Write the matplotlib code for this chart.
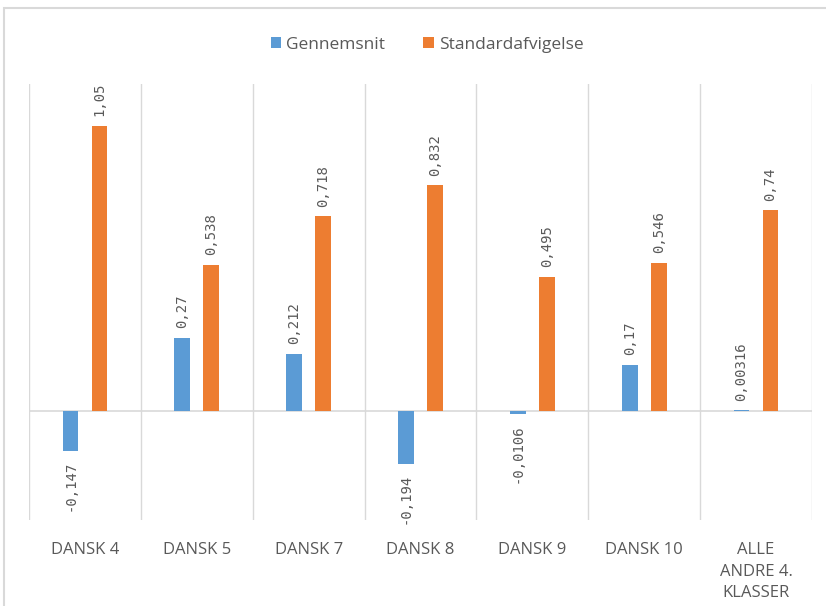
import numpy as np
import matplotlib.pyplot as plt
from matplotlib.patches import Rectangle

categories = ["DANSK 4", "DANSK 5", "DANSK 7", "DANSK 8", "DANSK 9", "DANSK 10", "ALLE\nANDRE 4.\nKLASSER"]
gennemsnit = [-0.147, 0.27, 0.212, -0.194, -0.0106, 0.17, 0.00316]
std_afv = [1.05, 0.538, 0.718, 0.832, 0.495, 0.546, 0.74]
gen_labels = ["-0,147", "0,27", "0,212", "-0,194", "-0,0106", "0,17", "0,00316"]
std_labels = ["1,05", "0,538", "0,718", "0,832", "0,495", "0,546", "0,74"]

BLUE = "#5B9BD5"
ORANGE = "#ED7D31"
GREY = "#595959"
LINE = "#D9D9D9"


def label_bars(ax, bars, texts):
    for b, t in zip(bars, texts):
        h = b.get_height()
        x = b.get_x() + b.get_width() / 2
        if h >= 0:
            ax.annotate(t, (x, h), xytext=(0, 7), textcoords="offset points",
                        rotation=90, ha="center", va="bottom", fontsize=10,
                        color=GREY, family="DejaVu Sans Mono")
        else:
            ax.annotate(t, (x, h), xytext=(0, -7), textcoords="offset points",
                        rotation=90, ha="center", va="top", fontsize=10,
                        color=GREY, family="DejaVu Sans Mono")


def main():
    fig = plt.figure(figsize=(8.26, 6.06), dpi=100)
    # outer chart frame (only top and left edges visible)
    fig.patches.append(Rectangle((4 / 826, -0.1), 1.2, 1.1 - 8 / 606,
                                 transform=fig.transFigure, fill=False,
                                 edgecolor=LINE, linewidth=1.5))

    ax = fig.add_axes([29 / 826, 86 / 606, 783 / 826, 436 / 606])
    x = np.arange(len(categories))
    w = 0.14
    b1 = ax.bar(x - 0.13, gennemsnit, w, color=BLUE, label="Gennemsnit")
    b2 = ax.bar(x + 0.13, std_afv, w, color=ORANGE, label="Standardafvigelse")
    label_bars(ax, b1, gen_labels)
    label_bars(ax, b2, std_labels)

    ax.set_xlim(-0.5, len(categories) - 0.5)
    ax.set_ylim(-0.4, 1.205)
    ax.axhline(0, color=LINE, linewidth=1.2, zorder=0)
    for s in np.arange(len(categories) + 1) - 0.5:
        ax.axvline(s, color=LINE, linewidth=1, zorder=0)
    for sp in ax.spines.values():
        sp.set_visible(False)
    ax.set_yticks([])
    ax.set_xticks(x)
    ax.set_xticklabels(categories, fontsize=12, color=GREY, family="Open Sans",
                       linespacing=1.45)
    ax.tick_params(axis="x", length=0, pad=16)

    fig.legend(loc="upper center", bbox_to_anchor=(0.517, 0.965), ncol=2,
               frameon=False, handlelength=0.6, handleheight=0.6,
               handletextpad=0.3, columnspacing=2.2, labelcolor=GREY,
               prop={"family": "Open Sans", "size": 12.5})

    fig.savefig("out.png", dpi=100)


if __name__ == '__main__':
    main()
